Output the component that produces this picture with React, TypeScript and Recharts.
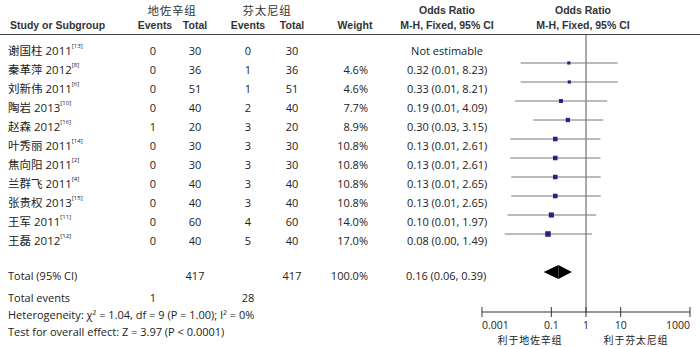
import React from "react";
import {
  ComposedChart,
  XAxis,
  YAxis,
  Scatter,
  ReferenceLine,
  ReferenceArea,
} from "recharts";

// ---------- data ----------
const studies = [
  "谢国柱 2011",
  "秦革萍 2012",
  "刘新伟 2011",
  "陶岩 2013",
  "赵森 2012",
  "叶秀丽 2011",
  "焦向阳 2011",
  "兰群飞 2011",
  "张贵权 2013",
  "王军 2011",
  "王磊 2012",
];
const refs = ["[13]", "[8]", "[6]", "[10]", "[16]", "[14]", "[2]", "[4]", "[15]", "[11]", "[12]"];
const dezEvents = [0, 0, 0, 0, 1, 0, 0, 0, 0, 0, 0];
const dezTotals = [30, 36, 51, 40, 20, 30, 30, 40, 40, 60, 40];
const fenEvents = [0, 1, 1, 2, 3, 3, 3, 3, 3, 4, 5];
const fenTotals = [30, 36, 51, 40, 20, 30, 30, 40, 40, 60, 40];
const weights = [null, 4.6, 4.6, 7.7, 8.9, 10.8, 10.8, 10.8, 10.8, 14.0, 17.0];
const oddsRatios = [null, 0.32, 0.33, 0.19, 0.3, 0.13, 0.13, 0.13, 0.13, 0.1, 0.08];
const ciLower = [null, 0.013, 0.013, 0.009, 0.03, 0.0065, 0.0065, 0.007, 0.007, 0.0055, 0.0045];
const ciUpper = [null, 8.23, 8.21, 4.09, 3.15, 2.61, 2.61, 2.65, 2.65, 1.97, 1.49];

const pooledOR = 0.16;
const pooledLower = 0.06;
const pooledUpper = 0.39;
const pooledRow = 12;
const totalDez = 417;
const totalFen = 417;
const totalEventsDez = 1;
const totalEventsFen = 28;
const totalWeight = 100.0;

const axisTicks = [0.001, 0.1, 1, 10, 1000];

// ---------- derived ----------
const rows = studies.map((name, i) => ({
  row: i,
  name,
  ref: refs[i],
  or: oddsRatios[i],
  lo: ciLower[i],
  hi: ciUpper[i],
  weight: weights[i],
}));
const plotRows = rows.filter((r) => r.or !== null);

// ---------- style constants ----------
const LATIN = "'Open Sans', 'Noto Sans CJK SC', sans-serif";
const BOLD = "'Liberation Sans', Arial, sans-serif";
const CJK = "'Noto Sans CJK SC', sans-serif";
const TXT = "#222";
const MARK = "#2d1f80";

const rowY = (i: number) => 50 + 19 * i;

const fmtCI = (o: number, l: number, h: number) =>
  `${o.toFixed(2)} (${l.toFixed(2)}, ${h.toFixed(2)})`;

const SquareMark = (props: any) => {
  const { cx, cy, payload } = props;
  const s = 1.2 * Math.sqrt(payload.weight) + 0.6;
  return <rect x={cx - s / 2} y={cy - s / 2} width={s} height={s} fill={MARK} />;
};

const LeftHalf = (props: any) => {
  const { x, y, width, height } = props;
  return (
    <polygon
      points={`${x},${y + height / 2} ${x + width},${y} ${x + width},${y + height}`}
      fill="#000"
    />
  );
};
const RightHalf = (props: any) => {
  const { x, y, width, height } = props;
  return (
    <polygon
      points={`${x},${y} ${x + width},${y + height / 2} ${x},${y + height}`}
      fill="#000"
    />
  );
};

const AxisTick = (props: any) => {
  const { x, y, payload, index } = props;
  const axisY = y - 5;
  const anchor = index === 0 ? "start" : index === axisTicks.length - 1 ? "end" : "middle";
  return (
    <g>
      <line x1={x} x2={x} y1={axisY - 5} y2={axisY + 5} stroke="#333" strokeWidth={1} />
      <text
        x={x}
        y={axisY + 12.5}
        textAnchor={anchor}
        dominantBaseline="central"
        fontSize={10.5}
        fontFamily={LATIN}
        fill={TXT}
      >
        {String(payload.value)}
      </text>
    </g>
  );
};

const Overlay = () => {
  const t = (x: number, y: number, s: string, anchor: string = "start", extra: any = {}) => (
    <text
      x={x}
      y={y}
      textAnchor={anchor as any}
      dominantBaseline="central"
      fontSize={11}
      fontFamily={LATIN}
      fill={TXT}
      {...extra}
    >
      {s}
    </text>
  );
  const hb = (x: number, y: number, s: string) => (
    <text
      x={x}
      y={y}
      textAnchor="middle"
      dominantBaseline="central"
      fontSize={10.5}
      fontWeight="bold"
      fontFamily={BOLD}
      fill="#333"
    >
      {s}
    </text>
  );
  return (
    <svg
      width={700}
      height={347}
      style={{ position: "absolute", left: 0, top: 0, pointerEvents: "none" }}
    >
      {/* group headers */}
      <text x={172} y={10} textAnchor="middle" dominantBaseline="central" fontSize={11.5} letterSpacing={0.8} fontFamily={CJK} fill="#333">
        地佐辛组
      </text>
      <text x={267} y={10} textAnchor="middle" dominantBaseline="central" fontSize={11.5} letterSpacing={0.8} fontFamily={CJK} fill="#333">
        芬太尼组
      </text>
      {hb(447, 10, "Odds Ratio")}
      {hb(583, 10, "Odds Ratio")}
      <text x={10} y={25} dominantBaseline="central" fontSize={10.5} fontWeight="bold" fontFamily={BOLD} fill="#333">
        Study or Subgroup
      </text>
      {hb(155, 25, "Events")}
      {hb(195, 25, "Total")}
      {hb(248, 25, "Events")}
      {hb(292, 25, "Total")}
      {hb(355, 25, "Weight")}
      {hb(447, 25, "M-H, Fixed, 95% CI")}
      {hb(583, 25, "M-H, Fixed, 95% CI")}
      <line x1={0} x2={700} y1={34.5} y2={34.5} stroke="#444" strokeWidth={1} />

      {rows.map((r, i) => (
        <g key={i}>
          <text x={8} y={rowY(i)} dominantBaseline="central" fontSize={11.5} fontFamily={LATIN} fill={TXT}>
            <tspan fontFamily={CJK}>{r.name.split(" ")[0]}</tspan>
            <tspan> {r.name.split(" ")[1]}</tspan>
            <tspan fontSize={6} dy={-4}>{r.ref}</tspan>
          </text>
          {t(153, rowY(i), String(dezEvents[i]), "middle")}
          {t(195, rowY(i), String(dezTotals[i]), "middle")}
          {t(248, rowY(i), String(fenEvents[i]), "middle")}
          {t(292, rowY(i), String(fenTotals[i]), "middle")}
          {r.weight !== null && t(368, rowY(i), `${(r.weight as number).toFixed(1)}%`, "end")}
          {r.or !== null
            ? t(407, rowY(i), fmtCI(r.or as number, r.lo as number, r.hi as number))
            : t(447, rowY(i), "Not estimable", "middle")}
        </g>
      ))}

      {t(8, 275, "Total (95% CI)")}
      {t(195, 275, String(totalDez), "middle")}
      {t(292, 275, String(totalFen), "middle")}
      {t(368, 275, `${totalWeight.toFixed(1)}%`, "end")}
      {t(406, 275, fmtCI(pooledOR, pooledLower, pooledUpper))}

      {t(8, 297, "Total events")}
      {t(153, 297, String(totalEventsDez), "middle")}
      {t(248, 297, String(totalEventsFen), "middle")}
      {t(8, 314, "Heterogeneity: χ² = 1.04, df = 9 (P = 1.00); I² = 0%")}
      {t(8, 331, "Test for overall effect: Z = 3.97 (P < 0.0001)")}

      <text x={530} y={339.5} textAnchor="middle" dominantBaseline="central" fontSize={10} letterSpacing={0.8} fontFamily={CJK} fill={TXT}>
        利于地佐辛组
      </text>
      <text x={636} y={339.5} textAnchor="middle" dominantBaseline="central" fontSize={10} letterSpacing={0.8} fontFamily={CJK} fill={TXT}>
        利于芬太尼组
      </text>
    </svg>
  );
};

export default function App() {
  return (
    <div style={{ position: "relative", width: 700, height: 347, background: "#fff" }}>
      <style>{`body{margin:0;}`}</style>
      <ComposedChart
        width={700}
        height={347}
        data={plotRows}
        margin={{ top: 34, right: 10, bottom: 0, left: 482 }}
      >
        <XAxis
          type="number"
          dataKey="or"
          scale="log"
          domain={[0.001, 1000]}
          ticks={axisTicks}
          interval={0}
          allowDataOverflow
          height={35}
          axisLine={{ stroke: "#333" }}
          tickLine={false}
          tickSize={5}
          tickMargin={0}
          tick={<AxisTick />}
        />
        <YAxis
          type="number"
          dataKey="row"
          domain={[-10 / 19, 268 / 19]}
          reversed
          allowDataOverflow
          hide
          width={0}
        />
        <ReferenceLine x={1} stroke="#555" strokeWidth={1} />
        {plotRows.map((r) => (
          <ReferenceLine
            key={`ci-${r.row}`}
            segment={[
              { x: r.lo as number, y: r.row },
              { x: r.hi as number, y: r.row },
            ]}
            stroke="#777"
            strokeWidth={1}
          />
        ))}
        <Scatter data={plotRows} shape={<SquareMark />} isAnimationActive={false} />
        <ReferenceArea
          x1={pooledLower}
          x2={pooledOR}
          y1={pooledRow - 0.37}
          y2={pooledRow + 0.37}
          shape={<LeftHalf />}
        />
        <ReferenceArea
          x1={pooledOR}
          x2={pooledUpper}
          y1={pooledRow - 0.37}
          y2={pooledRow + 0.37}
          shape={<RightHalf />}
        />
      </ComposedChart>
      <Overlay />
    </div>
  );
}
